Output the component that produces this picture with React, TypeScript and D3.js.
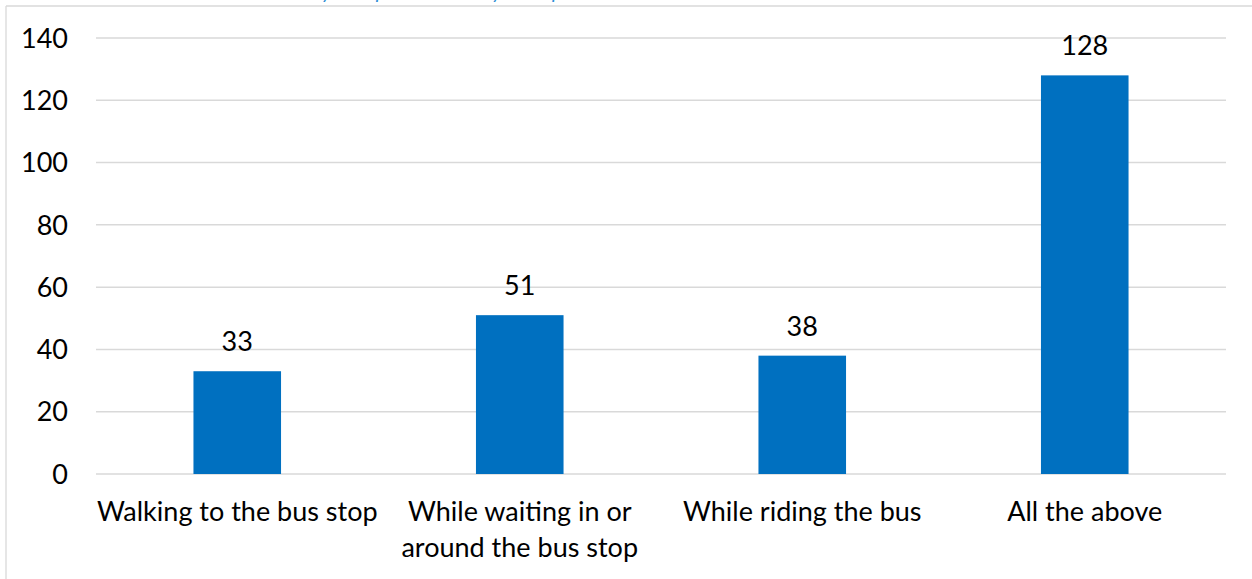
import React from "react";
import * as d3 from "d3";

const categories = [
  "Walking to the bus stop",
  "While waiting in or around the bus stop",
  "While riding the bus",
  "All the above",
];
const categoryLines = [
  ["Walking to the bus stop"],
  ["While waiting in or", "around the bus stop"],
  ["While riding the bus"],
  ["All the above"],
];
const values = [33, 51, 38, 128];
const yTicks = [0, 20, 40, 60, 80, 100, 120, 140];
const titleText = "Where did you experience it on your trip?";

const W = 1252;
const H = 579;
const FONT = "Lato, 'Open Sans', sans-serif";
const FS = 27;

export default function App() {
  const x = d3
    .scaleBand<string>()
    .domain(categories)
    .range([96, 1226])
    .paddingInner(0.69)
    .paddingOuter(0.345);
  const y = d3.scaleLinear().domain([0, 140]).range([474, 38]);

  return (
    <svg
      width={W}
      height={H}
      style={{ position: "absolute", left: 0, top: 0, background: "#fff" }}
      fontFamily={FONT}
    >
      <rect x={0} y={0} width={W} height={H} fill="#fff" />
      <text
        x={232}
        y={-1}
        fontSize={20}
        fontStyle="italic"
        fill="#2e8fd6"
        fontFamily={FONT}
      >
        {titleText}
      </text>
      <line x1={6} x2={W} y1={6} y2={6} stroke="#d9d9d9" strokeWidth={1.3} />
      <line x1={6} x2={6} y1={6} y2={H} stroke="#d9d9d9" strokeWidth={1.3} />
      {yTicks.map((t) => (
        <g key={t}>
          <line
            x1={96}
            x2={1226}
            y1={y(t)}
            y2={y(t)}
            stroke="#d9d9d9"
            strokeWidth={1.5}
          />
          <text
            x={68}
            y={y(t)}
            dy="0.36em"
            textAnchor="end"
            fontSize={FS}
            fill="#000"
          >
            {t}
          </text>
        </g>
      ))}
      {categories.map((c, i) => {
        const bx = x(c)!;
        const bw = x.bandwidth();
        const cx = bx + bw / 2;
        return (
          <g key={c}>
            <rect
              x={bx}
              y={y(values[i])}
              width={bw}
              height={y(0) - y(values[i])}
              fill="#0070c0"
            />
            <text
              x={cx}
              y={y(values[i]) - 20}
              textAnchor="middle"
              fontSize={FS}
              fill="#000"
            >
              {values[i]}
            </text>
            {categoryLines[i].map((ln, j) => (
              <text
                key={j}
                x={cx}
                y={521 + j * 36}
                textAnchor="middle"
                fontSize={FS}
                fill="#000"
              >
                {ln}
              </text>
            ))}
          </g>
        );
      })}
    </svg>
  );
}
